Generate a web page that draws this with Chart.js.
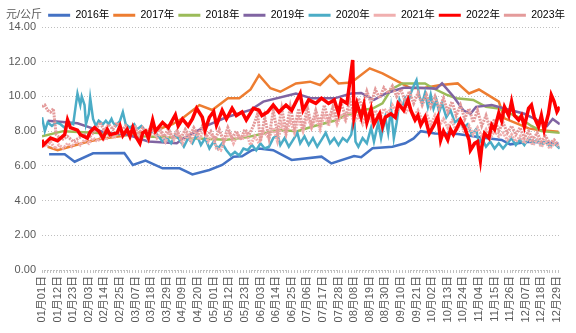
<!DOCTYPE html>
<html>
<head>
<meta charset="utf-8">
<script src="https://cdn.jsdelivr.net/npm/chart.js@4.4.0/dist/chart.umd.min.js"></script>
<style>
html, body { margin: 0; padding: 0; background: #fff; }
#wrap { width: 576px; height: 333px; }
</style>
</head>
<body>
<div id="wrap"><canvas id="chart"></canvas></div>
<script>
// x = day of year (0 = 01月01日), y = 元/公斤
var tickLabels = ['01月01日', '01月12日', '01月23日', '02月03日', '02月14日', '02月25日', '03月07日', '03月18日',
    '03月29日', '04月09日', '04月20日', '05月01日', '05月12日', '05月23日', '06月03日', '06月14日', '06月25日',
    '07月06日', '07月17日', '07月28日', '08月08日', '08月19日', '08月30日', '09月10日', '09月21日', '10月02日',
    '10月13日', '10月24日', '11月04日', '11月15日', '11月26日', '12月07日', '12月18日', '12月29日'];

var yearNames = ['2016年', '2017年', '2018年', '2019年', '2020年', '2021年', '2022年', '2023年'];

var s2016 = [[5,6.67],[16,6.67],[23,6.24],[36,6.72],[58,6.74],[64,6.05],[73,6.3],[85,5.86],[97,5.86],[106,5.51],
    [118,5.76],[127,6.05],[135,6.53],[141,6.55],[148,6.9],[153,7.0],[163,6.9],[176,6.34],[197,6.53],[204,6.14],
    [220,6.57],[225,6.5],[233,7.01],[247,7.1],[256,7.3],[262,7.58],[267,8.0],[277,7.87],[293,7.83],[310,7.64],
    [324,7.49],[330,7.24],[343,7.39],[364,7.3]];

var s2017 = [[4,7.1],[11,6.9],[32,7.39],[43,7.58],[55,7.7],[71,7.95],[85,8.2],[92,8.4],[99,8.74],[111,9.5],[120,9.22],
    [131,9.89],[139,9.89],[147,10.4],[153,11.23],[161,10.47],[168,10.27],[179,10.75],[189,10.85],[196,10.66],
    [203,11.23],[209,10.75],[218,10.8],[231,11.62],[240,11.33],[251,10.85],[260,10.47],[270,10.5],[281,10.66],
    [293,10.75],[301,10.17],[308,10.4],[322,9.7],[326,8.74],[343,8.16],[350,8.06],[364,7.97]];

var s2018 = [[0,7.7],[15,8.0],[40,7.9],[70,7.7],[100,7.6],[130,7.5],[144,7.64],[167,8.06],[180,8.0],[192,8.3],
    [206,8.6],[214,8.9],[225,9.2],[233,9.3],[240,9.6],[246,10.4],[254,10.75],[270,10.75],[275,10.5],[285,10.1],
    [292,9.9],[304,9.8],[313,9.4],[322,9.3],[336,8.8],[345,8.3],[352,8.0],[365,7.9]];

var s2019 = [[4,8.6],[25,8.45],[45,7.9],[60,7.8],[75,7.4],[95,7.3],[100,7.6],[117,8.35],[130,8.8],[147,9.22],
    [156,9.7],[179,10.17],[190,9.89],[206,9.89],[218,10.17],[225,10.2],[234,9.8],[243,10.2],[255,10.5],[264,10.5],
    [278,10.45],[282,10.75],[290,10.0],[297,9.2],[302,9.0],[306,9.4],[317,9.5],[326,9.3],[340,9.0],[350,8.6],
    [356,8.3],[360,8.7],[365,8.4]];

var s2020 = [[0,8.8],[2,8.0],[4,8.5],[7,8.3],[10,8.5],[13,8.4],[16,8.2],[19,8.5],[22,8.4],[24,9.6],[25,10.17],
    [27,9.5],[28,10.0],[30,9.5],[31,8.4],[33,9.0],[34,9.9],[36,8.7],[38,8.3],[40,8.6],[43,8.4],[45,8.6],[47,8.4],
    [49,8.7],[50,8.5],[52,8.3],[55,8.6],[57,9.1],[59,8.4],[62,8.2],[65,8.4],[67,8.1],[70,8.3],[73,8.0],[76,7.8],
    [79,8.1],[82,7.7],[85,7.4],[88,7.6],[91,7.3],[94,7.8],[97,7.5],[100,7.1],[103,7.6],[106,7.3],[109,7.8],
    [112,7.2],[115,7.6],[118,7.0],[121,7.4],[124,7.0],[127,7.3],[130,6.9],[133,6.6],[136,6.8],[139,6.6],[142,7.0],
    [145,6.9],[148,7.2],[151,6.9],[154,7.3],[157,7.0],[160,7.1],[163,7.6],[166,7.8],[168,7.2],[171,7.6],[174,7.1],
    [177,7.5],[180,7.9],[182,7.3],[185,7.7],[188,7.2],[191,7.6],[194,7.1],[197,7.5],[200,7.9],[203,7.3],[206,7.6],
    [209,7.2],[212,7.6],[215,7.4],[218,7.8],[220,8.9],[221,7.4],[223,7.1],[226,7.6],[229,7.3],[232,8.2],[234,7.4],
    [237,8.5],[239,7.6],[242,8.8],[244,7.9],[246,9.3],[248,7.6],[250,8.5],[252,9.8],[254,9.4],[256,9.9],[258,9.6],
    [260,10.2],[262,10.6],[264,10.94],[266,10.0],[268,9.6],[270,10.2],[272,9.4],[274,10.1],[276,9.3],[278,9.8],
    [280,9.1],[282,9.6],[285,8.8],[288,9.2],[291,8.5],[294,8.7],[297,8.2],[300,8.4],[303,7.8],[306,8.1],[308,7.3],
    [310,7.6],[313,7.1],[316,7.4],[319,7.0],[322,7.3],[325,7.0],[328,7.3],[331,7.6],[334,7.2],[337,7.5],[340,7.2],
    [343,7.6],[346,7.3],[349,7.5],[352,7.2],[355,7.4],[358,7.1],[361,7.3],[365,7.0]];

var s2021 = [[0,7.3],[3,7.1],[6,7.4],[9,7.0],[12,7.2],[15,7.0],[18,7.3],[21,7.1],[24,7.4],[27,7.2],[30,7.5],
    [33,7.3],[36,7.6],[39,7.4],[42,7.7],[45,7.5],[48,7.8],[51,7.6],[54,8.0],[57,7.7],[60,8.1],[63,7.8],[66,8.2],
    [69,7.6],[72,8.0],[75,7.5],[78,8.1],[81,7.6],[84,7.9],[87,7.4],[90,8.0],[93,7.5],[96,7.9],[99,7.3],[102,7.8],
    [105,7.4],[108,8.0],[111,7.5],[114,8.1],[117,7.4],[120,7.8],[123,7.0],[126,6.9],[129,7.5],[132,7.9],[135,7.3],
    [138,7.8],[141,7.5],[144,7.9],[147,7.2],[150,7.7],[153,7.3],[156,8.0],[160,7.6],[163,8.2],[166,7.4],[169,8.4],
    [172,7.8],[175,8.6],[178,7.9],[181,8.7],[184,8.0],[187,8.9],[190,8.2],[193,8.8],[196,8.1],[199,9.0],[202,8.3],
    [205,9.1],[208,8.4],[211,9.0],[214,8.6],[217,9.3],[220,8.5],[223,8.9],[226,8.4],[229,9.0],[232,8.6],[235,9.2],
    [238,8.7],[241,9.3],[244,9.0],[247,9.5],[250,9.1],[253,9.6],[256,9.0],[259,9.4],[262,8.8],[265,9.2],[268,8.6],
    [271,9.0],[274,8.4],[277,8.9],[280,8.3],[283,8.7],[286,8.2],[289,8.6],[292,8.0],[295,8.5],[298,7.9],[301,8.3],
    [304,7.8],[307,8.2],[310,7.7],[313,8.1],[316,7.6],[319,8.0],[322,7.7],[325,7.9],[328,7.5],[331,7.8],[334,7.4],
    [337,7.7],[340,7.3],[343,7.6],[346,7.2],[349,7.5],[352,7.1],[355,7.4],[358,7.0],[361,7.3],[365,7.1]];

var s2022 = [[0,7.5],[1,7.2],[6,7.6],[11,7.45],[16,7.8],[18,8.64],[20,8.2],[25,8.06],[27,7.8],[32,7.6],[34,7.96],
    [37,8.2],[40,8.0],[43,7.6],[46,8.1],[48,7.8],[53,7.9],[55,8.3],[57,7.75],[60,8.1],[62,7.7],[64,8.2],[66,7.7],
    [69,7.3],[71,7.9],[73,8.0],[75,7.6],[78,8.64],[80,8.0],[85,8.5],[89,8.2],[94,8.93],[96,8.3],[99,8.7],[103,8.3],
    [106,8.7],[109,9.31],[113,8.8],[115,8.06],[118,8.8],[121,9.12],[123,8.35],[127,9.2],[130,8.7],[134,9.31],
    [137,8.9],[141,9.1],[144,8.64],[149,9.31],[153,9.2],[155,8.9],[159,9.1],[163,9.5],[167,9.1],[172,9.5],[176,9.2],
    [182,10.17],[184,9.2],[188,9.8],[193,9.6],[197,9.9],[202,9.6],[206,9.8],[209,9.04],[211,9.8],[215,9.6],
    [219,12.1],[220,8.83],[222,9.6],[225,8.8],[227,9.5],[229,8.5],[232,9.3],[234,8.4],[238,9.0],[240,8.26],[242,8.8],
    [246,9.0],[249,8.8],[251,9.6],[255,9.2],[258,9.8],[260,9.2],[263,8.64],[265,8.9],[267,8.35],[270,8.8],[273,7.87],
    [276,8.3],[279,8.83],[281,7.49],[283,8.0],[286,7.5],[288,8.1],[290,7.8],[293,8.26],[295,8.64],[298,8.2],
    [301,7.49],[302,6.9],[305,7.3],[307,7.4],[309,6.34],[310,7.1],[312,7.87],[315,7.6],[317,8.35],[319,8.1],
    [322,9.04],[324,8.6],[326,9.4],[329,8.9],[331,9.7],[333,8.9],[336,8.64],[338,8.9],[340,8.26],[343,9.31],
    [345,9.5],[347,8.8],[350,8.26],[352,8.9],[354,8.06],[357,9.0],[359,10.08],[361,9.7],[363,9.12],[365,9.4]];

var s2023 = [[0,9.4],[2,9.5],[4,9.2],[6,9.1],[8,9.3],[10,7.8],[14,7.5],[18,7.7],[22,7.4],[26,7.6],[30,7.8],
    [34,7.7],[38,8.1],[41,8.5],[44,8.0],[47,8.4],[50,8.1],[53,8.5],[56,8.0],[59,8.3],[62,7.9],[65,8.2],[68,7.8],
    [71,8.2],[74,7.9],[77,8.3],[80,7.8],[83,8.2],[86,7.7],[89,8.1],[92,7.6],[95,8.0],[98,7.6],[101,8.1],[104,7.7],
    [107,8.2],[110,7.8],[113,8.3],[116,7.7],[119,8.0],[122,7.5],[125,8.1],[128,7.4],[131,8.2],[134,7.6],[137,8.0],
    [140,7.5],[143,8.1],[146,7.8],[149,8.3],[152,9.0],[154,7.4],[157,8.8],[160,7.6],[163,9.2],[166,7.9],[169,9.3],
    [172,8.0],[175,9.4],[178,8.2],[181,9.3],[184,8.1],[187,9.4],[190,8.3],[193,9.2],[196,8.4],[199,9.5],[202,8.6],
    [205,9.4],[208,8.7],[211,9.6],[214,8.8],[217,9.8],[220,9.0],[223,9.9],[226,9.4],[229,10.3],[232,9.6],[235,10.4],
    [238,9.9],[241,10.5],[244,10.2],[247,10.6],[250,10.0],[253,10.4],[256,9.7],[259,10.3],[262,9.6],[265,10.2],
    [268,9.5],[271,10.1],[274,9.4],[277,10.0],[280,9.3],[283,9.9],[286,9.1],[289,9.7],[292,8.9],[295,9.5],[298,8.7],
    [301,9.3],[304,8.5],[307,9.2],[310,8.3],[313,8.9],[316,8.1],[319,8.7],[322,8.0],[325,8.5],[328,7.9],[331,8.3],
    [334,7.8],[337,8.2],[340,7.6],[343,8.0],[346,7.5],[349,7.9],[352,7.4],[355,7.7],[358,7.3],[361,7.5],[364,7.2]];

var colors = ['#4472C4', '#ED7D31', '#9BBB59', '#8064A2', '#4BACC6', '#F0AFAF', '#FF0000', '#E49B9B'];
var widths = [2.5, 2.5, 2.5, 2.5, 2.5, 3, 3.5, 3];
var drawOrder = [7, 6, 5, 4, 3, 2, 0, 1];
var series = [s2016, s2017, s2018, s2019, s2020, s2021, s2022, s2023];

var allDays = [];
for (var d = 0; d <= 365; d++) allDays.push(d);

var datasets = series.map(function (s, i) {
    return {
        label: yearNames[i],
        data: s.map(function (p) { return { x: p[0], y: p[1] }; }),
        borderColor: colors[i],
        backgroundColor: colors[i],
        borderWidth: widths[i],
        borderDash: (i === 5 || i === 7) ? [2, 1] : [],
        pointRadius: 0,
        tension: 0,
        order: drawOrder[i]
    };
});

var font = '"Liberation Sans", "Noto Sans CJK SC", sans-serif';

var unitLabel = {
    id: 'unitLabel',
    beforeInit: function (chart) {
        var fit = chart.legend.fit;
        chart.legend.fit = function () {
            fit.bind(chart.legend)();
            this.height = 21;
        };
    },
    afterDraw: function (chart) {
        var ctx = chart.ctx;
        ctx.save();
        ctx.font = '11px ' + font;
        ctx.fillStyle = '#595959';
        ctx.textBaseline = 'middle';
        ctx.fillText('元/公斤', 6, 15);
        ctx.restore();
    }
};

var chart = new Chart(document.getElementById('chart').getContext('2d'), {
    type: 'line',
    data: { datasets: datasets },
    plugins: [unitLabel],
    options: {
        responsive: true,
        maintainAspectRatio: false,
        devicePixelRatio: 1,
        animation: false,
        layout: { padding: { top: 6, right: 7 } },
        plugins: {
            tooltip: { enabled: false },
            legend: {
                position: 'top',
                align: 'end',
                labels: {
                    boxWidth: 22,
                    boxHeight: 3,
                    padding: 4,
                    color: '#595959',
                    font: { size: 10.5, family: font },
                    generateLabels: function (chart) {
                        return chart.data.datasets.map(function (ds, i) {
                            return {
                                text: ds.label,
                                fillStyle: ds.borderColor,
                                strokeStyle: ds.borderColor,
                                lineWidth: 0,
                                hidden: false,
                                datasetIndex: i
                            };
                        });
                    }
                }
            }
        },
        scales: {
            x: {
                type: 'linear',
                min: 0,
                max: 365,
                afterBuildTicks: function (scale) {
                    scale.ticks = allDays.map(function (v) { return { value: v }; });
                },
                afterFit: function (scale) { scale.height = 63; },
                ticks: {
                    autoSkip: false,
                    minRotation: 90,
                    maxRotation: 90,
                    padding: 3,
                    color: '#595959',
                    font: { size: 11, family: font },
                    callback: function (v) { return v % 11 === 0 ? tickLabels[v / 11] : ''; }
                },
                grid: {
                    drawOnChartArea: false,
                    tickLength: 3,
                    color: function (c) {
                        return (c.tick && c.tick.value % 2 === 0) ? '#BFBFBF' : 'rgba(0,0,0,0)';
                    }
                },
                border: { display: false }
            },
            y: {
                min: 0,
                max: 14,
                afterFit: function (scale) { scale.width = 42; },
                ticks: {
                    stepSize: 2,
                    padding: 6,
                    color: '#595959',
                    font: { size: 11, family: font },
                    callback: function (v) { return v.toFixed(2); }
                },
                grid: { color: '#BFBFBF', drawTicks: false },
                border: { display: false, dash: [1, 2] }
            }
        }
    }
});
</script>
</body>
</html>
